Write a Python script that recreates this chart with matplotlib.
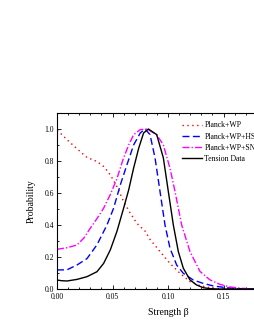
import matplotlib
matplotlib.use("Agg")
import matplotlib.pyplot as plt
from matplotlib.ticker import MultipleLocator

plt.rcParams['font.family'] = ['Liberation Serif', 'DejaVu Serif']
plt.rcParams['mathtext.fontset'] = 'stix'

labels = ["Planck+WP", "Planck+WP+HST", "Planck+WP+SNLS", "Tension Data"]

x_red = [0.000, 0.0015, 0.009, 0.018, 0.027, 0.036, 0.042, 0.048, 0.054, 0.060, 0.066,
         0.072, 0.0796, 0.0838, 0.0928, 0.1018, 0.1108, 0.1198, 0.1288, 0.1378, 0.146,
         0.160, 0.200]
y_red = [0.99, 0.985, 0.933, 0.877, 0.822, 0.797, 0.766, 0.714, 0.64, 0.547, 0.474,
         0.41, 0.36, 0.31, 0.234, 0.16, 0.098, 0.046, 0.021, 0.008, 0.002,
         0.0, 0.0]

x_blue = [0.000, 0.009, 0.018, 0.027, 0.036, 0.045, 0.051, 0.057, 0.063, 0.069, 0.075,
          0.0793, 0.0838, 0.0883, 0.0928, 0.0973, 0.1018, 0.1078, 0.1138, 0.1228,
          0.1318, 0.1408, 0.1528, 0.165, 0.180, 0.200]
y_blue = [0.119, 0.12, 0.15, 0.19, 0.276, 0.40, 0.505, 0.65, 0.776, 0.90, 0.975,
          1.00, 0.965, 0.82, 0.61, 0.40, 0.255, 0.15, 0.098, 0.056,
          0.035, 0.019, 0.008, 0.002, 0.0, 0.0]

x_mag = [0.000, 0.009, 0.018, 0.024, 0.030, 0.036, 0.042, 0.048, 0.054, 0.060, 0.0646,
         0.069, 0.075, 0.081, 0.0898, 0.0958, 0.1018, 0.1063, 0.1123, 0.1198, 0.1288,
         0.1378, 0.1468, 0.1558, 0.165, 0.175, 0.200]
y_mag = [0.248, 0.258, 0.275, 0.317, 0.38, 0.44, 0.505, 0.59, 0.69, 0.82, 0.90,
         0.964, 0.996, 1.00, 0.965, 0.90, 0.755, 0.61, 0.40, 0.234, 0.11,
         0.057, 0.029, 0.013, 0.005, 0.001, 0.0]

x_blk = [0.000, 0.004, 0.009, 0.018, 0.027, 0.036, 0.042, 0.048, 0.054, 0.060, 0.0646,
         0.069, 0.0736, 0.078, 0.0823, 0.0898, 0.0958, 0.1003, 0.1048, 0.1093, 0.1138,
         0.1198, 0.1258, 0.1318, 0.138, 0.145, 0.200]
y_blk = [0.056, 0.052, 0.05, 0.06, 0.077, 0.108, 0.16, 0.244, 0.36, 0.505, 0.62,
         0.755, 0.88, 0.975, 1.00, 0.965, 0.82, 0.609, 0.40, 0.234, 0.13,
         0.057, 0.025, 0.008, 0.002, 0.0, 0.0]

fig = plt.figure(figsize=(2.55, 3.30), dpi=100)
ax = fig.add_axes([57/255, 1 - 289/330, 222/255, 176/330])

ax.plot(x_red, y_red, color='red', linestyle=(0, (1, 2.5)), lw=1.0, label=labels[0])
ax.plot(x_blue, y_blue, color='blue', linestyle=(0, (5, 2.5)), lw=1.0, label=labels[1])
ax.plot(x_mag, y_mag, color='magenta', linestyle=(0, (5, 1.5, 1, 1.5)), lw=1.0, label=labels[2])
ax.plot(x_blk, y_blk, color='black', linestyle='-', lw=1.0, label=labels[3])

ax.set_xlim(0, 0.2)
ax.set_ylim(0, 1.1)
ax.xaxis.set_minor_locator(MultipleLocator(0.01))
ax.yaxis.set_minor_locator(MultipleLocator(0.1))
ax.set_xticks([0.0, 0.05, 0.10, 0.15, 0.20])
ax.set_xticklabels(["0.00", "0.05", "0.10", "0.15", "0.20"])
ax.set_yticks([0.0, 0.2, 0.4, 0.6, 0.8, 1.0])
ax.set_yticklabels(["0.0", "0.2", "0.4", "0.6", "0.8", "1.0"])
ax.tick_params(which='both', direction='in', top=True, right=True, labelsize=5.5, width=0.6)
ax.tick_params(axis='x', pad=3)
ax.tick_params(axis='y', pad=2)
ax.tick_params(which='major', length=3)
ax.tick_params(which='minor', length=1.6)
for s in ax.spines.values():
    s.set_linewidth(0.8)

ax.set_xlabel("Strength β", fontsize=7, labelpad=5)
ax.set_ylabel("Probability", fontsize=7, labelpad=6.5)

ax.legend(loc='upper left', bbox_to_anchor=(0.562, 0.952), frameon=False, fontsize=5.6,
          handlelength=2.6, handletextpad=0.3, labelspacing=0.4, borderaxespad=0,
          borderpad=0)

fig.savefig("out.png", dpi=100)
